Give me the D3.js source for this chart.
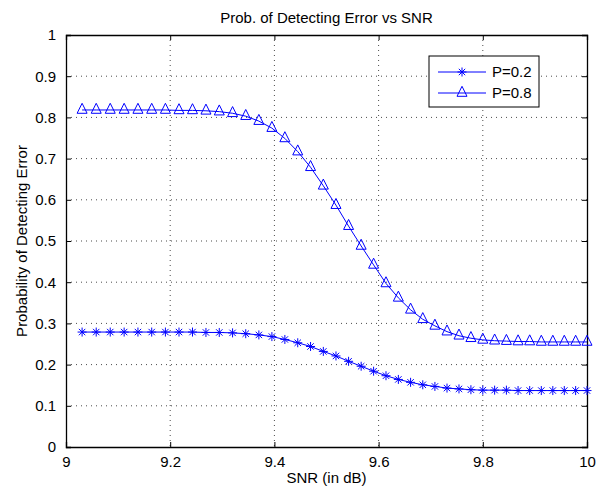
<!DOCTYPE html>
<html>
<head>
<meta charset="utf-8">
<script src="https://cdn.jsdelivr.net/npm/d3@7"></script>
<style>
  html, body { margin: 0; padding: 0; background: #fff; }
  text { font-family: "Liberation Sans", Arial, Helvetica, sans-serif; }
</style>
</head>
<body>
<div id="chart"></div>
<script>
// SNR values (dB) at which the probability was evaluated
var snrDb = [9.0309, 9.0580, 9.0849, 9.1116, 9.1381, 9.1645, 9.1908, 9.2169, 9.2428, 9.2686,
  9.2942, 9.3197, 9.3450, 9.3702, 9.3952, 9.4201, 9.4448, 9.4694, 9.4939, 9.5182,
  9.5424, 9.5665, 9.5904, 9.6142, 9.6379, 9.6614, 9.6848, 9.7081, 9.7313, 9.7543,
  9.7772, 9.8000, 9.8227, 9.8453, 9.8677, 9.8900, 9.9123, 9.9344, 9.9564, 9.9782, 10.0000];

var p02 = [0.279, 0.279, 0.279, 0.279, 0.279, 0.279, 0.279, 0.279, 0.279, 0.278,
  0.278, 0.277, 0.275, 0.272, 0.268, 0.261, 0.253, 0.244, 0.232, 0.221,
  0.208, 0.196, 0.184, 0.173, 0.164, 0.157, 0.151, 0.147, 0.143, 0.141,
  0.139, 0.138, 0.138, 0.138, 0.137, 0.137, 0.137, 0.137, 0.137, 0.137, 0.137];

var p08 = [0.818, 0.818, 0.818, 0.818, 0.818, 0.818, 0.818, 0.817, 0.817, 0.816,
  0.814, 0.810, 0.803, 0.791, 0.774, 0.749, 0.717, 0.679, 0.634, 0.587,
  0.536, 0.488, 0.442, 0.397, 0.362, 0.333, 0.310, 0.294, 0.280, 0.270,
  0.264, 0.260, 0.258, 0.257, 0.256, 0.256, 0.255, 0.255, 0.255, 0.255, 0.255];

var seriesNames = ["P=0.2", "P=0.8"];
var xTicks = [9, 9.2, 9.4, 9.6, 9.8, 10];
var yTicks = [0, 0.1, 0.2, 0.3, 0.4, 0.5, 0.6, 0.7, 0.8, 0.9, 1];

var W = 597, H = 489,
  margin = { top: 35, right: 10, bottom: 42, left: 66 },
  width = W - margin.left - margin.right,
  height = H - margin.top - margin.bottom;

var svg = d3.select("#chart").append("svg")
  .attr("width", W).attr("height", H)
  .style("background-color", "white");

var g = svg.append("g")
  .attr("transform", "translate(" + margin.left + "," + margin.top + ")");

var x = d3.scaleLinear().domain([9, 10]).range([0, width]);
var y = d3.scaleLinear().domain([0, 1]).range([height, 0]);

var blue = "#0000ff";
var fmt = function(d) { return d3.format("")(+d.toFixed(1)); };

// grid
g.append("g").selectAll("line").data(xTicks.slice(1, -1)).enter().append("line")
  .attr("x1", function(d) { return x(d); }).attr("x2", function(d) { return x(d); })
  .attr("y1", 0).attr("y2", height)
  .attr("stroke", "#000").attr("stroke-width", 1).attr("stroke-dasharray", "1,4")
  .attr("opacity", 0.7);
g.append("g").selectAll("line").data(yTicks.slice(1, -1)).enter().append("line")
  .attr("y1", function(d) { return y(d); }).attr("y2", function(d) { return y(d); })
  .attr("x1", 0).attr("x2", width)
  .attr("stroke", "#000").attr("stroke-width", 1).attr("stroke-dasharray", "1,4")
  .attr("opacity", 0.7);

// axes (ticks inward, on all four sides)
var axB = g.append("g").attr("transform", "translate(0," + height + ")")
  .call(d3.axisBottom(x).tickValues(xTicks).tickSize(-5).tickPadding(9).tickFormat(fmt));
var axL = g.append("g")
  .call(d3.axisLeft(y).tickValues(yTicks).tickSize(-5).tickPadding(10).tickFormat(fmt));
var axT = g.append("g")
  .call(d3.axisTop(x).tickValues(xTicks).tickSize(-5).tickFormat(""));
var axR = g.append("g").attr("transform", "translate(" + width + ",0)")
  .call(d3.axisRight(y).tickValues(yTicks).tickSize(-5).tickFormat(""));

[axB, axL, axT, axR].forEach(function(a) {
  a.select(".domain").attr("stroke", "#000").attr("stroke-width", 1.3);
  a.selectAll(".tick line").attr("stroke", "#000");
  a.selectAll("text").attr("fill", "#000").style("font-size", "15px");
});

// curves
var line = d3.line()
  .x(function(d) { return x(d[0]); })
  .y(function(d) { return y(d[1]); });

var d02 = d3.zip(snrDb, p02), d08 = d3.zip(snrDb, p08);

var starPath = "M0,-4.5V4.5M-4.5,0H4.5M-3.2,-3.2L3.2,3.2M-3.2,3.2L3.2,-3.2";
var triPath = "M0,-6.7L5,3.3L-5,3.3Z";

function drawSeries(data, marker) {
  g.append("path").datum(data)
    .attr("fill", "none").attr("stroke", blue).attr("stroke-width", 1)
    .attr("d", line);
  g.append("g").selectAll("path").data(data).enter().append("path")
    .attr("transform", function(d) { return "translate(" + x(d[0]) + "," + y(d[1]) + ")"; })
    .attr("d", marker)
    .attr("fill", "none").attr("stroke", blue).attr("stroke-width", 1);
}
drawSeries(d02, starPath);
drawSeries(d08, triPath);

// legend
var lg = g.append("g").attr("transform", "translate(" + (429 - margin.left) + "," + (56 - margin.top) + ")");
lg.append("rect").attr("width", 110).attr("height", 51)
  .attr("fill", "#fff").attr("stroke", "#000").attr("stroke-width", 1);
[starPath, triPath].forEach(function(m, i) {
  var yy = 16 + i * 21;
  lg.append("line").attr("x1", 9).attr("x2", 57).attr("y1", yy).attr("y2", yy)
    .attr("stroke", blue).attr("stroke-width", 1);
  lg.append("path").attr("transform", "translate(33," + yy + ")").attr("d", m)
    .attr("fill", "none").attr("stroke", blue);
  lg.append("text").attr("x", 63).attr("y", yy).attr("dy", "0.35em")
    .style("font-size", "15px").text(seriesNames[i]);
});

// titles
svg.append("text").attr("x", margin.left + width / 2).attr("y", 23)
  .attr("text-anchor", "middle").style("font-size", "15px")
  .text("Prob. of Detecting Error vs SNR");
svg.append("text").attr("x", margin.left + width / 2).attr("y", 483)
  .attr("text-anchor", "middle").style("font-size", "15px")
  .text("SNR (in dB)");
svg.append("text")
  .attr("transform", "translate(27," + (margin.top + height / 2) + ") rotate(-90)")
  .attr("text-anchor", "middle").style("font-size", "15px")
  .text("Probability of Detecting Error");
</script>
</body>
</html>
